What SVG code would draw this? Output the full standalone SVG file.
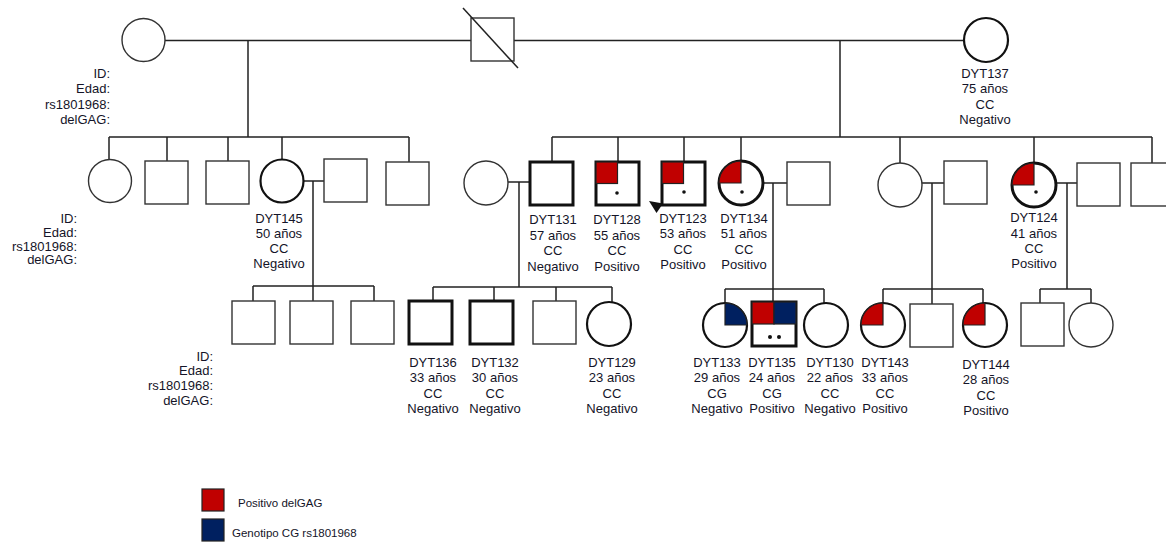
<svg xmlns="http://www.w3.org/2000/svg" width="1166" height="543" viewBox="0 0 1166 543">
<style>
.bg{fill:#ffffff}
.ln{stroke:#222;stroke-width:1.5;fill:none}
.thin{fill:#fff;stroke:#333;stroke-width:1.4}
.med{fill:#fff;stroke:#111;stroke-width:2.2}
.thick{fill:#fff;stroke:#111;stroke-width:3}
.red{fill:#c00000;stroke:#222;stroke-width:1.2}
.blue{fill:#002060;stroke:#222;stroke-width:1.2}
.dot{fill:#111}
text{font-family:"Liberation Sans",Arial,sans-serif;font-size:13px;fill:#141428}
.c{text-anchor:middle}
.r{text-anchor:end}
.lg{font-size:11.5px}
</style>
<rect class="bg" x="0" y="0" width="1166" height="543"/>
<g id="connectors">
<path class="ln" d="M165 40.5H471 M514 40.5H964 M248 40.5V137 M109 137H409 M840 40.5V137 M552 137H1152"/>
<path class="ln" d="M109 137V159.5 M167 137V161 M228 137V161 M282 137V159.5 M409 137V162"/>
<path class="ln" d="M552 137V162 M618 137V162 M684 137V162 M741 137V161 M900 137V163 M1034 137V163 M1152 137V163"/>
<path class="ln" d="M303.5 181H324 M313 181V286 M253 286H374 M253 286V301 M313 286V301 M374 286V301"/>
<path class="ln" d="M508 182H530 M519 182V287 M433 287H612 M433 287V301 M494 287V301 M556 287V301 M612 287V302"/>
<path class="ln" d="M763 183H787 M773 183V302 M725 289H824 M725 289V303 M824 289V303"/>
<path class="ln" d="M922 183H944 M932 183V304 M883 289H983 M883 289V303 M983 289V303"/>
<path class="ln" d="M1056 183H1077 M1067 183V289 M1040 289H1091 M1040 289V303 M1091 289V303"/>
</g>
<g id="gen1-mother"><circle class="thin" cx="143.5" cy="40" r="21.5"/></g>
<g id="gen1-father"><rect class="thin" x="471" y="18" width="43" height="43" stroke-width="1.6"/><line class="ln" x1="463" y1="8" x2="518" y2="68"/></g>
<g id="DYT137"><circle class="med" cx="986" cy="40" r="22"/>
<text class="c" x="985" y="77.5">DYT137</text><text class="c" x="985" y="93">75 años</text><text class="c" x="985" y="108.5">CC</text><text class="c" x="985" y="124">Negativo</text></g>
<g id="labels-1"><text class="r" x="110" y="77.5">ID:</text><text class="r" x="110" y="93">Edad:</text><text class="r" x="110" y="108.5">rs1801968:</text><text class="r" x="110" y="124">delGAG:</text></g>
<g id="labels-2"><text class="r" x="77" y="222.5">ID:</text><text class="r" x="77" y="236.5">Edad:</text><text class="r" x="77" y="250.5">rs1801968:</text><text class="r" x="77" y="264">delGAG:</text></g>
<g id="labels-3"><text class="r" x="213" y="360.5">ID:</text><text class="r" x="213" y="375">Edad:</text><text class="r" x="213" y="390">rs1801968:</text><text class="r" x="213" y="405">delGAG:</text></g>

<g id="g2-c1"><circle class="thin" cx="110" cy="181" r="21.5"/></g>
<g id="g2-s1"><rect class="thin" x="145" y="161" width="43" height="43"/></g>
<g id="g2-s2"><rect class="thin" x="206" y="161" width="43" height="43"/></g>
<g id="DYT145"><circle class="med" cx="282" cy="181" r="21.5"/>
<text class="c" x="279" y="222.5">DYT145</text><text class="c" x="279" y="238">50 años</text><text class="c" x="279" y="253">CC</text><text class="c" x="279" y="268">Negativo</text></g>
<g id="g2-s3"><rect class="thin" x="324" y="159" width="43" height="43"/></g>
<g id="g2-s4"><rect class="thin" x="386" y="162" width="43" height="43"/></g>

<g id="g2-c2"><circle class="thin" cx="486" cy="183" r="22"/></g>
<g id="DYT131"><rect class="thick" x="530" y="162" width="43" height="43"/>
<text class="c" x="553" y="223.5">DYT131</text><text class="c" x="553" y="239.5">57 años</text><text class="c" x="553" y="255">CC</text><text class="c" x="553" y="271">Negativo</text></g>
<g id="DYT128"><rect class="thick" x="596" y="162" width="43" height="43"/><rect class="red" x="596" y="162" width="21.5" height="21.5"/><circle class="dot" cx="617" cy="193" r="1.8"/>
<text class="c" x="617" y="223.5">DYT128</text><text class="c" x="617" y="239.5">55 años</text><text class="c" x="617" y="255">CC</text><text class="c" x="617" y="271">Positivo</text></g>
<g id="DYT123"><rect class="thick" x="662" y="162" width="43" height="43"/><rect class="red" x="662" y="162" width="21.5" height="21.5"/><circle class="dot" cx="684" cy="192" r="1.8"/><polygon fill="#111" points="649,201 663,203.5 656.5,213"/>
<text class="c" x="683" y="222.5">DYT123</text><text class="c" x="683" y="238">53 años</text><text class="c" x="683" y="253.5">CC</text><text class="c" x="683" y="269">Positivo</text></g>
<g id="DYT134"><circle class="thick" cx="741" cy="183" r="22" stroke-width="2.4"/><path class="red" d="M741 183H719A22 22 0 0 1 741 161Z"/><circle class="dot" cx="742" cy="192" r="1.8"/>
<text class="c" x="744" y="222.5">DYT134</text><text class="c" x="744" y="238">51 años</text><text class="c" x="744" y="253.5">CC</text><text class="c" x="744" y="269">Positivo</text></g>
<g id="g2-s5"><rect class="thin" x="787" y="162" width="43" height="43"/></g>
<g id="g2-c3"><circle class="thin" cx="900" cy="185" r="22"/></g>
<g id="g2-s6"><rect class="thin" x="944" y="161" width="43" height="43"/></g>
<g id="DYT124"><circle class="thick" cx="1034" cy="185" r="22" stroke-width="2.4"/><path class="red" d="M1034 185H1012A22 22 0 0 1 1034 163Z"/><circle class="dot" cx="1036" cy="192" r="1.8"/>
<text class="c" x="1034" y="221.5">DYT124</text><text class="c" x="1034" y="237.5">41 años</text><text class="c" x="1034" y="252.5">CC</text><text class="c" x="1034" y="267.5">Positivo</text></g>
<g id="g2-s7"><rect class="thin" x="1077" y="163" width="43" height="43"/></g>
<g id="g2-s8"><rect class="thin" x="1131" y="163" width="43" height="43"/></g>

<g id="g3-s1"><rect class="thin" x="232" y="301" width="43" height="43"/></g>
<g id="g3-s2"><rect class="thin" x="290" y="301" width="43" height="43"/></g>
<g id="g3-s3"><rect class="thin" x="351" y="301" width="43" height="43"/></g>
<g id="DYT136"><rect class="thick" x="409" y="301" width="43" height="43"/>
<text class="c" x="433" y="366.5">DYT136</text><text class="c" x="433" y="382">33 años</text><text class="c" x="433" y="397.5">CC</text><text class="c" x="433" y="413">Negativo</text></g>
<g id="DYT132"><rect class="thick" x="470" y="301" width="43" height="43"/>
<text class="c" x="495" y="366.5">DYT132</text><text class="c" x="495" y="382">30 años</text><text class="c" x="495" y="397.5">CC</text><text class="c" x="495" y="413">Negativo</text></g>
<g id="g3-s4"><rect class="thin" x="533" y="301" width="43" height="43"/></g>
<g id="DYT129"><circle class="med" cx="609" cy="324" r="22"/>
<text class="c" x="612" y="366.5">DYT129</text><text class="c" x="612" y="382">23 años</text><text class="c" x="612" y="397.5">CC</text><text class="c" x="612" y="413">Negativo</text></g>

<g id="DYT133"><circle class="med" cx="725" cy="325" r="22"/><path class="blue" d="M725 325V303A22 22 0 0 1 747 325Z"/>
<text class="c" x="717" y="366.5">DYT133</text><text class="c" x="717" y="382">29 años</text><text class="c" x="717" y="397.5">CG</text><text class="c" x="717" y="413">Negativo</text></g>
<g id="DYT135"><rect class="thick" x="752" y="302" width="44" height="44"/><rect class="red" x="752" y="302" width="22" height="22"/><rect class="blue" x="774" y="302" width="22" height="22"/><circle class="dot" cx="770" cy="337" r="2"/><circle class="dot" cx="779" cy="337" r="2"/>
<text class="c" x="772" y="366.5">DYT135</text><text class="c" x="772" y="382">24 años</text><text class="c" x="772" y="397.5">CG</text><text class="c" x="772" y="413">Positivo</text></g>
<g id="DYT130"><circle class="med" cx="826" cy="325" r="22"/>
<text class="c" x="830" y="366.5">DYT130</text><text class="c" x="830" y="382">22 años</text><text class="c" x="830" y="397.5">CC</text><text class="c" x="830" y="413">Negativo</text></g>
<g id="DYT143"><circle class="med" cx="883" cy="325" r="22"/><path class="red" d="M883 325H861A22 22 0 0 1 883 303Z"/>
<text class="c" x="885" y="366.5">DYT143</text><text class="c" x="885" y="382">33 años</text><text class="c" x="885" y="397.5">CC</text><text class="c" x="885" y="413">Positivo</text></g>
<g id="g3-s5"><rect class="thin" x="910" y="304" width="43" height="43"/></g>
<g id="DYT144"><circle class="med" cx="985" cy="325" r="22"/><path class="red" d="M985 325H963A22 22 0 0 1 985 303Z"/>
<text class="c" x="986" y="368.5">DYT144</text><text class="c" x="986" y="384">28 años</text><text class="c" x="986" y="399.5">CC</text><text class="c" x="986" y="415">Positivo</text></g>
<g id="g3-s6"><rect class="thin" x="1021" y="303" width="43" height="43"/></g>
<g id="g3-c1"><circle class="thin" cx="1091" cy="325" r="22"/></g>

<g id="legend">
<rect class="red" x="202" y="489" width="22" height="22" stroke-width="1.5"/>
<text class="lg" x="238" y="507">Positivo delGAG</text>
<rect class="blue" x="202" y="519" width="22" height="22" stroke-width="1.5"/>
<text class="lg" x="232" y="537">Genotipo CG rs1801968</text>
</g>
</svg>
